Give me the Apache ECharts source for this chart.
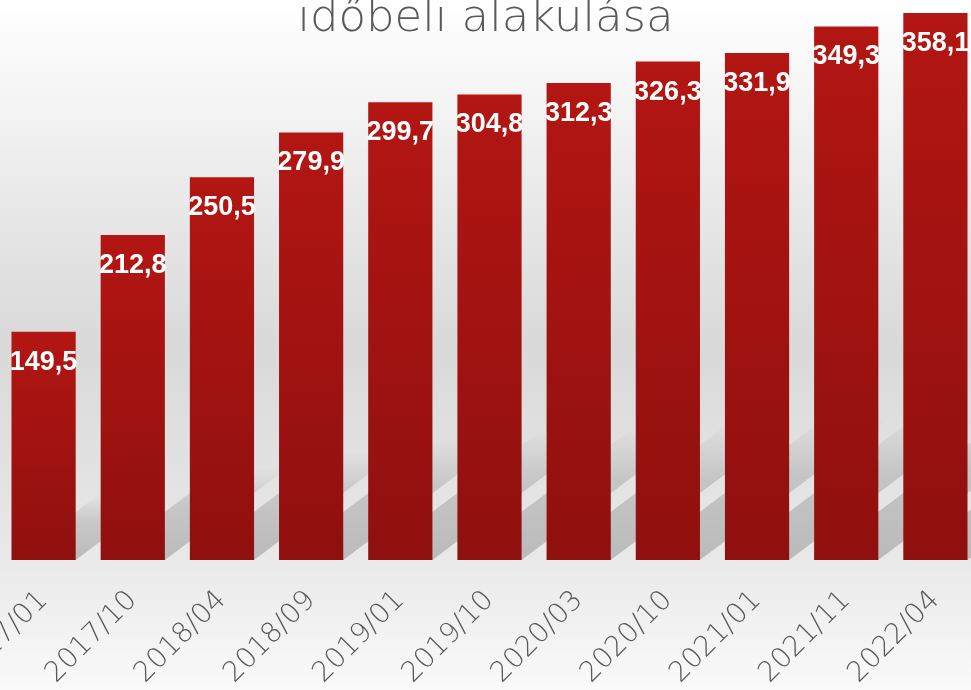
<!DOCTYPE html>
<html>
<head>
<meta charset="utf-8">
<script src="https://cdn.jsdelivr.net/npm/echarts@6/dist/echarts.min.js"></script>
<style>
html, body { margin: 0; padding: 0; }
#chart1 { width: 971px; height: 690px; }
</style>
</head>
<body>
<div id="chart1"></div>
<script>
var honapok = ['2017/01', '2017/10', '2018/04', '2018/09', '2019/01', '2019/10', '2020/03', '2020/10', '2021/01', '2021/11', '2022/04'];
var ertekek = [149.5, 212.8, 250.5, 279.9, 299.7, 304.8, 312.3, 326.3, 331.9, 349.3, 358.1];

// the slanted shadow behind each bar
function arnyek(params, api) {
    var also = api.coord([api.value(0), 0]);
    var teteje = api.coord([api.value(0), api.value(1)]);
    var bw = api.size([1, 0])[0] * 0.72;
    var xl = also[0] - bw / 2, xr = also[0] + bw / 2, y0 = also[1];
    var L = (y0 - teteje[1]) * 0.38;
    var dy = L * 0.75;
    return {
        type: 'polygon',
        shape: {points: [[xl, y0], [xr, y0], [xr + L, y0 - dy], [xl + L, y0 - dy]]},
        style: {
            fill: new echarts.graphic.LinearGradient(0, y0, 0, y0 - dy, [
                {offset: 0, color: 'rgba(0,0,0,0.2)'},
                {offset: 0.6, color: 'rgba(0,0,0,0.13)'},
                {offset: 1, color: 'rgba(0,0,0,0)'}
            ], true)
        }
    };
}

var _chart1 = echarts.init(document.getElementById('chart1'));
var option1 = {
    backgroundColor: new echarts.graphic.LinearGradient(0, 0, 0, 1, [
        {offset: 0, color: '#ffffff'},
        {offset: 0.5, color: '#d9d9d9'},
        {offset: 0.8, color: '#e8e8e8'},
        {offset: 1, color: '#fafafa'}
    ]),
    title: {
        text: 'időbeli alakulása',
        left: 'center',
        top: -8,
        textStyle: {
            fontFamily: 'DejaVu Sans',
            fontWeight: 200,
            fontSize: 45,
            color: '#595959'
        }
    },
    grid: {
        left: -1,
        width: 981,
        top: -51,
        bottom: 130,
        containLabel: false,
        outerBoundsMode: 'none'
    },
    xAxis: {
        type: 'category',
        data: honapok,
        axisLine: {show: false},
        axisTick: {show: false},
        axisLabel: {
            rotate: 45,
            margin: 36,
            fontFamily: 'DejaVu Sans',
            fontWeight: 200,
            fontSize: 28,
            color: '#595959'
        }
    },
    yAxis: {
        type: 'value',
        min: 0,
        max: 400,
        show: false,
        splitLine: {show: false}
    },
    series: [
        {
            type: 'custom',
            renderItem: arnyek,
            silent: true,
            z: 1,
            data: ertekek.map(function (v, i) { return [i, v]; })
        },
        {
            type: 'bar',
            data: ertekek,
            z: 2,
            barCategoryGap: '28%',
            itemStyle: {
                color: new echarts.graphic.LinearGradient(0, 0, 0, 1, [
                    {offset: 0, color: '#b31613'},
                    {offset: 1, color: '#8f100e'}
                ])
            },
            label: {
                show: true,
                position: 'insideTop',
                distance: 17,
                fontFamily: 'Liberation Sans',
                fontWeight: 'bold',
                fontSize: 27,
                color: '#ffffff',
                formatter: function (p) {
                    return p.value.toFixed(1).replace('.', ',');
                }
            }
        }
    ]
};
_chart1.setOption(option1);
</script>
</body>
</html>
